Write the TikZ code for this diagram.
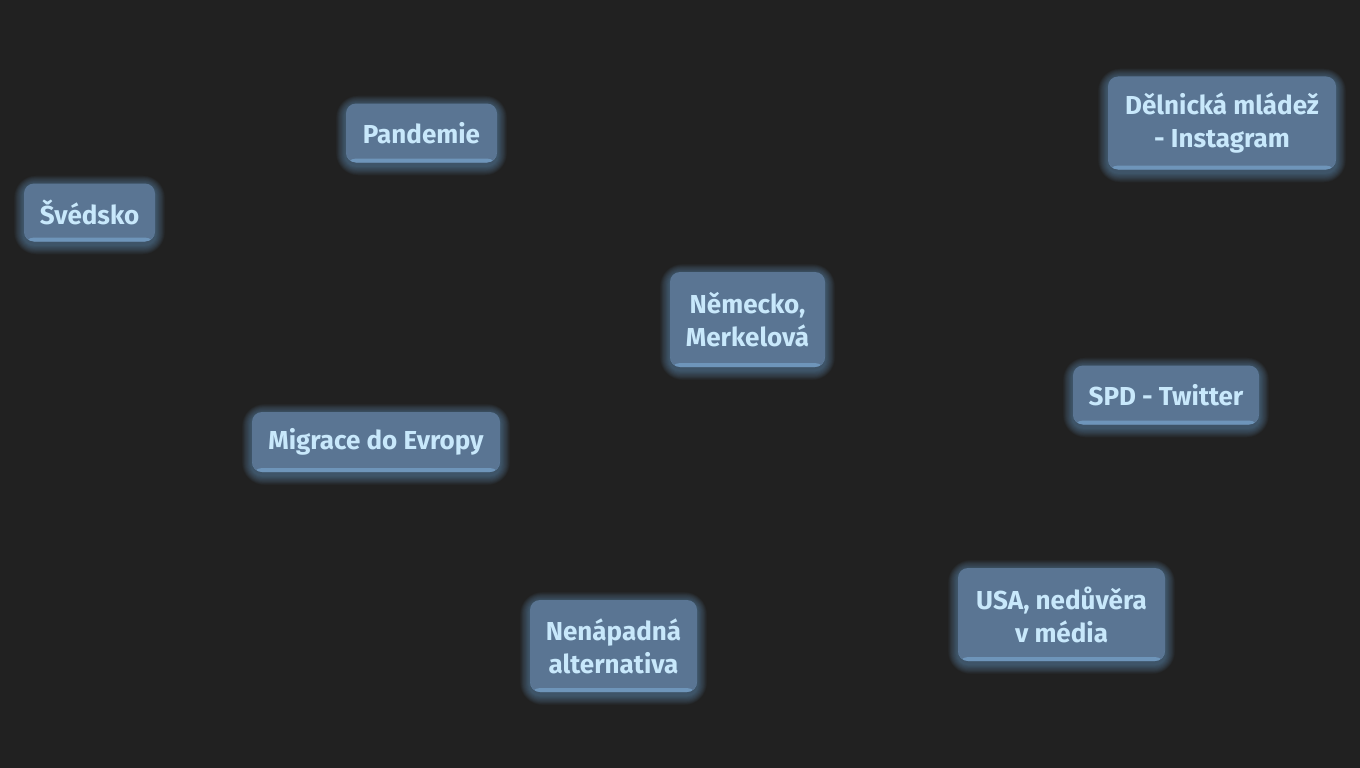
\documentclass[tikz,border=0pt]{standalone}
\usepackage{fontspec}
\setmainfont{Fira Sans}
\usetikzlibrary{backgrounds,calc}
\definecolor{bgc}{HTML}{212121}
\definecolor{boxc}{HTML}{5A7593}
\definecolor{edgec}{HTML}{6E95BA}
\definecolor{txtc}{HTML}{C8E8FB}
\definecolor{glowc}{HTML}{7AB4E8}
\tikzset{
  topic/.style={rectangle, rounded corners=10pt, fill=boxc, text=txtc,
    font=\fontsize{26}{33}\selectfont\bfseries, align=center, inner sep=0pt,
    path picture={\fill[edgec] (path picture bounding box.south west) rectangle ([yshift=4pt]path picture bounding box.south east);}}
}
\begin{document}
\begin{tikzpicture}[x=1pt,y=-1pt]
\useasboundingbox (0,0) rectangle (1360,768);
\node[topic, minimum width=151pt, minimum height=59pt] (pan) at (421.5,133) {Pandemie};
\node[topic, minimum width=131pt, minimum height=58pt] (sve) at (89.5,212.5) {Švédsko};
\node[topic, minimum width=155pt, minimum height=95pt] (nem) at (747.5,319.5) {Německo,\\Merkelová};
\node[topic, minimum width=228pt, minimum height=93pt] (del) at (1222,123) {Dělnická mládež\\- Instagram};
\node[topic, minimum width=186pt, minimum height=59pt] (spd) at (1166,395) {SPD - Twitter};
\node[topic, minimum width=248pt, minimum height=60pt] (mig) at (376,442) {Migrace do Evropy};
\node[topic, minimum width=207pt, minimum height=93pt] (usa) at (1061.5,614.5) {USA, nedůvěra\\v média};
\node[topic, minimum width=167pt, minimum height=92pt] (nen) at (613.5,646) {Nenápadná\\alternativa};
\begin{pgfonlayer}{background}
\fill[bgc] (0,0) rectangle (1360,768);
\foreach \n in {pan,sve,nem,del,spd,mig,usa,nen}{
  \foreach \i in {1,...,12}{
    \fill[glowc, opacity=0.04, rounded corners={10+\i}]
      ($(\n.south west)+({-\i*0.8},{\i*0.8+3})$) rectangle ($(\n.north east)+({\i*0.8},{-\i*0.8+2})$);
  }
}
\end{pgfonlayer}
\end{tikzpicture}
\end{document}
